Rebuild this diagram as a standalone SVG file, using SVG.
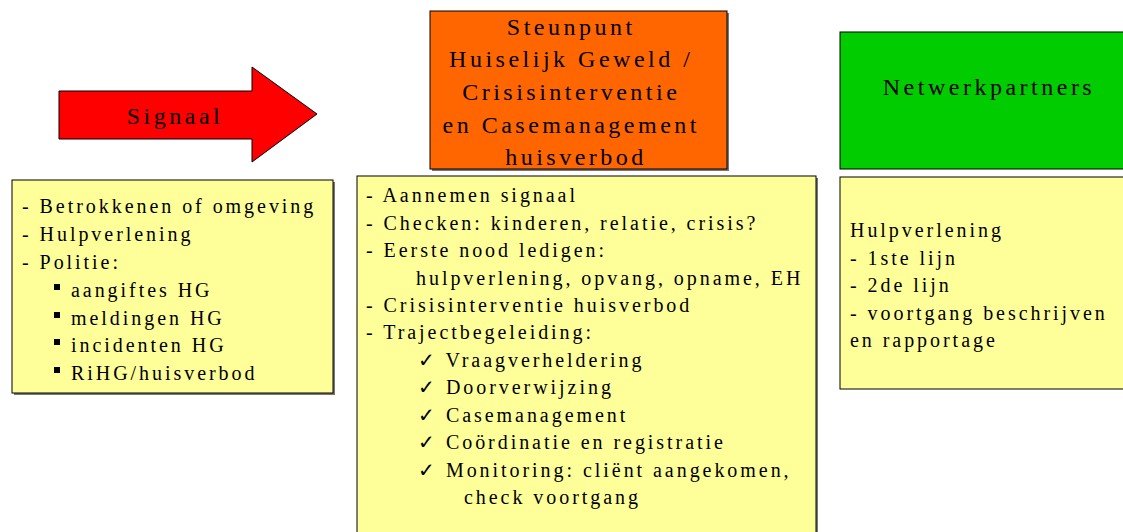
<svg xmlns="http://www.w3.org/2000/svg" width="1123" height="532" viewBox="0 0 1123 532">
<style>
.box{stroke:#000;stroke-width:1}
.yellow{fill:#FFFF99}
.sh{fill:#777}
text{font-family:"Liberation Serif","Times New Roman","DejaVu Serif",serif;fill:#000}
.h{font-size:24px;letter-spacing:3.5px}
.b{font-size:20px;letter-spacing:2.95px}
</style>
<rect width="1123" height="532" fill="#fff"/>
<g id="signaal">
<polygon points="59,91 252,91 252,67 317,114 252,162 252,139 59,139" fill="#FF0000" class="box"/>
<text class="h" x="175" y="124" text-anchor="middle">Signaal</text>
</g>
<g id="steunpunt">
<rect x="432" y="13" width="297" height="158" class="sh"/>
<rect x="430" y="11" width="297" height="158" fill="#FF6600" class="box"/>
<text class="h" text-anchor="middle">
<tspan x="576" y="35">Steunpunt</tspan>
<tspan x="576" y="67">Huiselijk Geweld /</tspan>
<tspan x="576" y="100">Crisisinterventie</tspan>
<tspan x="576" y="133">en Casemanagement</tspan>
<tspan x="576" y="165">huisverbod</tspan>
</text>
</g>
<g id="netwerkpartners">
<rect x="840" y="32" width="290" height="137" fill="#00CC00" class="box"/>
<text class="h" x="989" y="95" text-anchor="middle">Netwerkpartners</text>
</g>
<g id="signaal-list">
<rect x="14" y="182" width="321" height="213" class="sh"/>
<rect x="12" y="180" width="321" height="213" class="box yellow"/>
<text class="b">
<tspan x="22" y="213">- Betrokkenen of omgeving</tspan>
<tspan x="22" y="241">- Hulpverlening</tspan>
<tspan x="22" y="269">- Politie:</tspan>
<tspan x="71" y="297">aangiftes HG</tspan>
<tspan x="71" y="325">meldingen HG</tspan>
<tspan x="71" y="352">incidenten HG</tspan>
<tspan x="71" y="380">RiHG/huisverbod</tspan>
</text>
<rect x="54" y="284" width="6" height="6"/>
<rect x="54" y="312" width="6" height="6"/>
<rect x="54" y="339" width="6" height="6"/>
<rect x="54" y="367" width="6" height="6"/>
</g>
<g id="steunpunt-list">
<rect x="359" y="178" width="459" height="370" class="sh"/>
<rect x="357" y="176" width="459" height="370" class="box yellow"/>
<text class="b">
<tspan x="366" y="202">- Aannemen signaal</tspan>
<tspan x="366" y="230">- Checken: kinderen, relatie, crisis?</tspan>
<tspan x="366" y="257">- Eerste nood ledigen:</tspan>
<tspan x="416" y="285">hulpverlening, opvang, opname, EH</tspan>
<tspan x="366" y="312">- Crisisinterventie huisverbod</tspan>
<tspan x="366" y="339">- Trajectbegeleiding:</tspan>
<tspan x="418" y="367">✓ Vraagverheldering</tspan>
<tspan x="418" y="394">✓ Doorverwijzing</tspan>
<tspan x="418" y="422">✓ Casemanagement</tspan>
<tspan x="418" y="449">✓ Coördinatie en registratie</tspan>
<tspan x="418" y="477">✓ Monitoring: cliënt aangekomen,</tspan>
<tspan x="464" y="504">check voortgang</tspan>
</text>
</g>
<g id="netwerk-list">
<rect x="840" y="177" width="290" height="212" class="box yellow"/>
<text class="b">
<tspan x="850" y="237">Hulpverlening</tspan>
<tspan x="850" y="265">- 1ste lijn</tspan>
<tspan x="850" y="292">- 2de lijn</tspan>
<tspan x="850" y="320">- voortgang beschrijven</tspan>
<tspan x="850" y="347">en rapportage</tspan>
</text>
</g>
<g id="connectors"></g>
</svg>
